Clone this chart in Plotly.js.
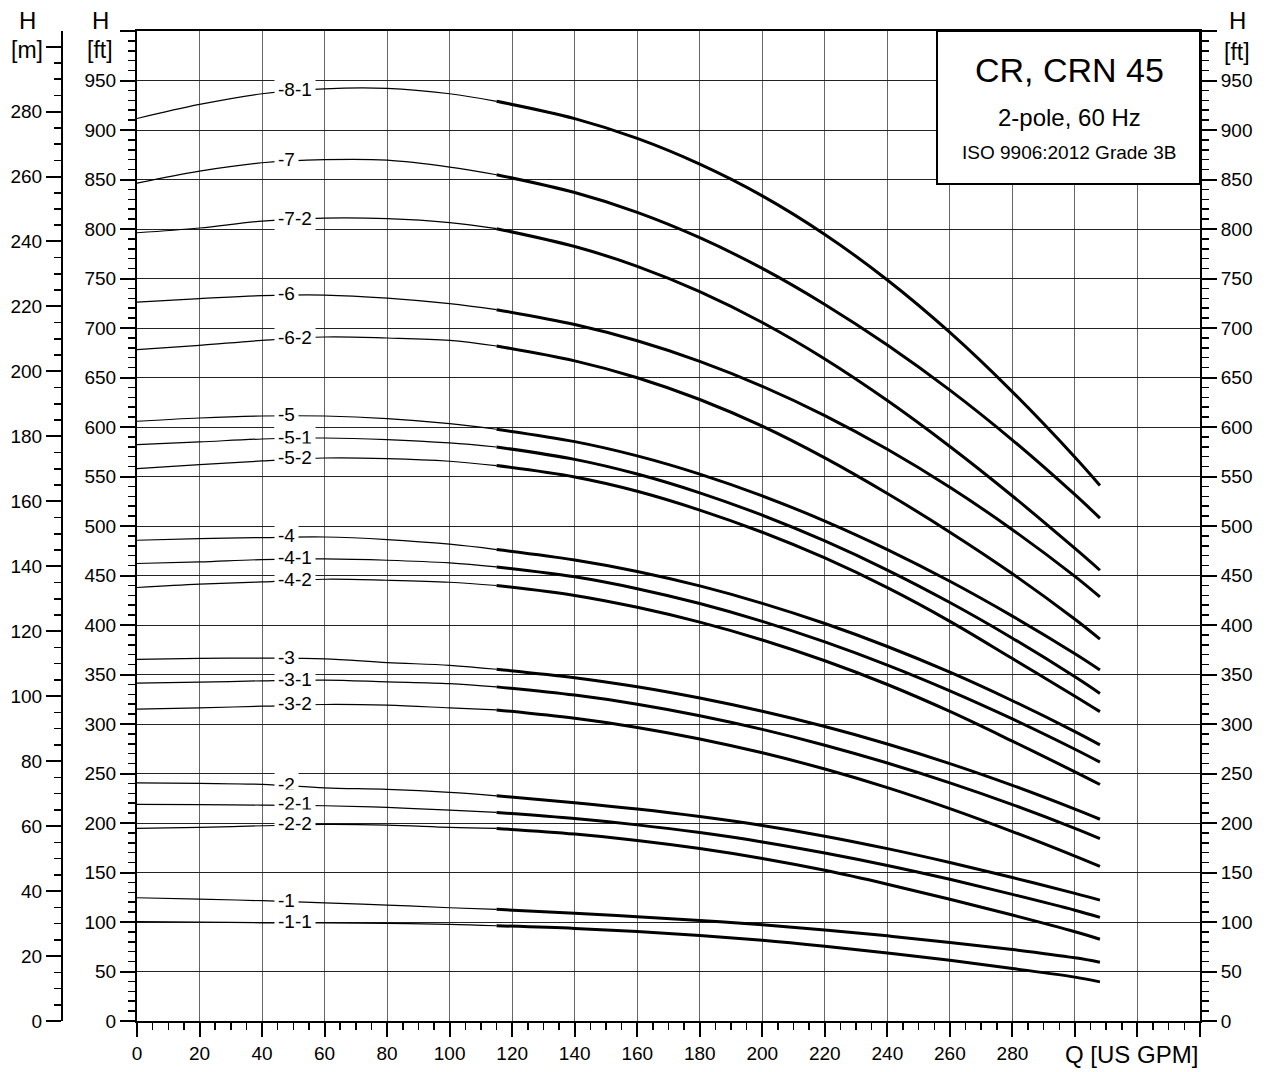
<!DOCTYPE html>
<html>
<head>
<meta charset="utf-8">
<script src="https://cdn.plot.ly/plotly-3.0.1.min.js"></script>
<style>html,body{margin:0;padding:0;background:#fff;}#chart{width:1267px;height:1072px;}</style>
</head>
<body>
<div id="chart"></div>
<script>
// ---- Data (H in ft, Q in US GPM) ----
const Q_THIN  = [0, 20, 40, 60, 80, 100, 115];
const Q_THICK = [115, 140, 160, 180, 200, 220, 240, 260, 280, 300, 308];
const CURVE_NAMES = ['-8-1','-7','-7-2','-6','-6-2','-5','-5-1','-5-2','-4','-4-1','-4-2','-3','-3-1','-3-2','-2','-2-1','-2-2','-1','-1-1'];

const THIN_8_1  = [911.6, 925.8, 936.6, 941.6, 942.0, 936.6, 929.0];
const THICK_8_1 = [929.0, 911.5, 891.5, 865.5, 833.5, 794.5, 748.5, 695.5, 635.5, 569.5, 541.0];
const THIN_7    = [846.4, 858.5, 866.9, 870.0, 869.5, 862.5, 854.8];
const THICK_7   = [854.8, 836.8, 816.8, 791.2, 760.2, 723.8, 682.8, 637.2, 586.8, 531.6, 508.0];
const THIN_7_2  = [796.2, 801.0, 808.0, 811.0, 810.4, 806.4, 800.3];
const THICK_7_2 = [800.3, 782.3, 762.3, 736.7, 705.5, 668.7, 626.7, 580.3, 530.3, 477.3, 455.3];
const THIN_6    = [726.2, 729.6, 732.7, 733.3, 730.2, 724.6, 718.5];
const THICK_6   = [718.5, 703.5, 687.1, 666.3, 641.1, 611.5, 577.5, 539.1, 496.3, 449.1, 428.3];
const THIN_6_2  = [678.1, 682.5, 687.5, 690.9, 689.9, 687.5, 681.8];
const THICK_6_2 = [681.8, 666.8, 649.8, 627.8, 600.8, 568.8, 532.8, 493.8, 451.8, 405.8, 385.8];
const THIN_5    = [605.8, 609.1, 611.1, 611.1, 608.5, 603.4, 597.7];
const THICK_5   = [597.7, 585.2, 570.8, 552.4, 530.4, 505.0, 476.2, 444.2, 409.0, 371.0, 354.6];
const THIN_5_1  = [582.2, 584.9, 587.9, 588.9, 587.3, 583.9, 579.8];
const THICK_5_1 = [579.8, 567.3, 552.5, 533.5, 510.9, 484.9, 455.5, 422.7, 386.7, 347.7, 330.9];
const THIN_5_2  = [558.0, 562.0, 565.7, 568.7, 568.1, 565.4, 561.0];
const THICK_5_2 = [561.0, 549.5, 535.1, 516.1, 493.7, 467.7, 437.7, 403.7, 366.1, 328.1, 312.5];
const THIN_4    = [485.6, 487.3, 488.3, 488.9, 486.3, 481.6, 476.2];
const THICK_4   = [476.2, 465.7, 454.1, 439.5, 421.9, 401.5, 378.3, 352.3, 323.5, 292.3, 278.9];
const THIN_4_1  = [462.1, 463.7, 466.1, 466.7, 465.4, 462.7, 458.7];
const THICK_4_1 = [458.7, 448.7, 436.7, 421.7, 403.7, 382.9, 359.5, 333.5, 305.1, 274.5, 261.5];
const THIN_4_2  = [437.9, 441.2, 443.5, 446.2, 445.2, 443.2, 439.9];
const THICK_4_2 = [439.9, 429.9, 417.9, 402.9, 384.9, 363.9, 339.9, 312.7, 282.7, 251.7, 238.9];
const THIN_3    = [365.2, 366.2, 366.5, 365.8, 362.0, 359.3, 355.3];
const THICK_3   = [355.3, 346.8, 337.6, 326.2, 312.8, 297.4, 279.8, 260.0, 238.0, 214.0, 203.8];
const THIN_3_1  = [341.2, 342.2, 343.6, 344.3, 342.6, 340.8, 337.5];
const THICK_3_1 = [337.5, 329.2, 320.0, 308.4, 294.6, 278.6, 260.6, 240.6, 218.6, 194.6, 184.2];
const THIN_3_2  = [315.0, 316.3, 318.0, 319.7, 319.0, 316.3, 314.2];
const THICK_3_2 = [314.2, 305.7, 296.5, 284.9, 270.9, 254.5, 235.7, 214.5, 191.3, 166.5, 156.1];
const THIN_2    = [240.6, 240.0, 239.0, 235.5, 233.9, 230.9, 227.5];
const THICK_2   = [227.5, 220.5, 214.1, 206.5, 197.5, 186.7, 174.1, 160.1, 144.9, 128.9, 122.1];
const THIN_2_1  = [218.8, 218.5, 218.1, 217.4, 215.7, 213.0, 210.7];
const THICK_2_1 = [210.7, 204.5, 198.1, 190.3, 180.9, 169.7, 157.1, 143.1, 127.9, 111.9, 104.7];
const THIN_2_2  = [194.5, 195.6, 197.2, 198.6, 197.9, 195.6, 194.5];
const THICK_2_2 = [194.5, 188.8, 182.4, 174.2, 164.2, 152.2, 138.2, 123.0, 107.0, 90.2, 82.6];
const THIN_1    = [124.5, 123.2, 121.5, 119.4, 117.1, 114.4, 112.8];
const THICK_1   = [112.8, 108.8, 105.4, 101.6, 97.2, 92.0, 86.0, 79.4, 72.2, 63.8, 59.4];
const THIN_1_1  = [100.3, 100.0, 99.2, 99.2, 98.6, 97.6, 96.2];
const THICK_1_1 = [96.2, 93.5, 90.3, 86.3, 81.5, 75.5, 68.7, 61.3, 53.1, 44.3, 39.5];

const X_TICKS  = [0,20,40,60,80,100,120,140,160,180,200,220,240,260,280,300,320,340];
const X_LABELS = ['0','20','40','60','80','100','120','140','160','180','200','220','240','260','280','','',''];
const FT_TICKS = [0,50,100,150,200,250,300,350,400,450,500,550,600,650,700,750,800,850,900,950,1000];
const FT_LABELS = ['0','50','100','150','200','250','300','350','400','450','500','550','600','650','700','750','800','850','900','950',''];
const M_TICKS  = [0,20,40,60,80,100,120,140,160,180,200,220,240,260,280,300];
const M_LABELS = ['0','20','40','60','80','100','120','140','160','180','200','220','240','260','280',''];

const TITLE_LINES = ['CR, CRN 45', '2-pole, 60 Hz', 'ISO 9906:2012 Grade 3B'];

const THIN_SETS  = [THIN_8_1, THIN_7, THIN_7_2, THIN_6, THIN_6_2, THIN_5, THIN_5_1, THIN_5_2, THIN_4, THIN_4_1, THIN_4_2, THIN_3, THIN_3_1, THIN_3_2, THIN_2, THIN_2_1, THIN_2_2, THIN_1, THIN_1_1];
const THICK_SETS = [THICK_8_1, THICK_7, THICK_7_2, THICK_6, THICK_6_2, THICK_5, THICK_5_1, THICK_5_2, THICK_4, THICK_4_1, THICK_4_2, THICK_3, THICK_3_1, THICK_3_2, THICK_2, THICK_2_1, THICK_2_2, THICK_1, THICK_1_1];

// ---- Geometry ----
const W = 1267, H = 1072;
const M = {l: 40, r: 67, t: 31, b: 51};
const PW = W - M.l - M.r;
const PH = H - M.t - M.b;
const px2x = p => (p - M.l) / PW;
const py2y = p => (H - M.b - p) / PH;

const FONT = 'Liberation Sans, Arial, Helvetica, sans-serif';
const traces = [];
CURVE_NAMES.forEach((name, i) => {
  traces.push({x: Q_THIN, y: THIN_SETS[i], mode: 'lines', line: {color: '#000', width: 1.2, shape: 'spline', smoothing: 1}, hoverinfo: 'skip', showlegend: false});
  traces.push({x: Q_THICK, y: THICK_SETS[i], mode: 'lines', line: {color: '#000', width: 3, shape: 'spline', smoothing: 1}, hoverinfo: 'skip', showlegend: false});
});
traces.push({x: [], y: [], yaxis: 'y2', mode: 'lines', showlegend: false, hoverinfo: 'skip'});
traces.push({x: [], y: [], yaxis: 'y3', mode: 'lines', showlegend: false, hoverinfo: 'skip'});

const tickFont = {family: FONT, size: 19, color: '#000'};
const annotations = [];
CURVE_NAMES.forEach((name, i) => {
  const th = THIN_SETS[i];
  annotations.push({
    x: 43.8, y: (th[2] + th[3]) / 2 + 1.5, xref: 'x', yref: 'y',
    text: name, showarrow: false, xanchor: 'left', yanchor: 'middle',
    bgcolor: '#fff', borderpad: 3, font: {family: FONT, size: 19, color: '#000'}
  });
});
const heads = [
  ['H', 27, 21, 24], ['[m]', 27, 50, 23],
  ['H', 100, 21, 24], ['[ft]', 100, 50, 23],
  ['H', 1237, 20, 24], ['[ft]', 1237, 52, 23],
  ['Q [US GPM]', 1131, 1054, 24]
];
heads.forEach(h => annotations.push({
  x: px2x(h[1]), y: py2y(h[2]), xref: 'paper', yref: 'paper', text: h[0],
  showarrow: false, xanchor: 'center', yanchor: 'middle', font: {family: FONT, size: h[3], color: '#000'}
}));
const tpos = [[70, 34], [117, 24], [152, 19]];
TITLE_LINES.forEach((t, i) => annotations.push({
  x: px2x(1069), y: py2y(tpos[i][0]), xref: 'paper', yref: 'paper', text: t,
  showarrow: false, xanchor: 'center', yanchor: 'middle', font: {family: FONT, size: tpos[i][1], color: '#000'}
}));

const layout = {
  width: W, height: H, margin: M,
  paper_bgcolor: '#fff', plot_bgcolor: '#fff', showlegend: false,
  font: {family: FONT, size: 19, color: '#000'},
  xaxis: {
    domain: [px2x(137), 1], range: [0, 340], tickmode: 'array', tickvals: X_TICKS, ticktext: X_LABELS,
    ticks: 'outside', ticklen: 14, tickwidth: 2, tickcolor: '#000', tickfont: tickFont,
    showline: true, linewidth: 2, linecolor: '#000', mirror: true,
    showgrid: true, gridcolor: '#666', gridwidth: 1, zeroline: false,
    minor: {tickmode: 'linear', tick0: 0, dtick: 5, ticks: 'outside', ticklen: 7, tickwidth: 1.5, tickcolor: '#000', showgrid: false}
  },
  yaxis: {
    range: [0, 1000], tickmode: 'array', tickvals: FT_TICKS, ticktext: FT_LABELS,
    ticks: 'outside', ticklen: 15, tickwidth: 2, tickcolor: '#000', tickfont: tickFont,
    showline: true, linewidth: 2, linecolor: '#000',
    showgrid: true, gridcolor: '#222', gridwidth: 1, zeroline: false,
    minor: {tickmode: 'linear', tick0: 0, dtick: 10, ticks: 'outside', ticklen: 7, tickwidth: 1.5, tickcolor: '#000', showgrid: false}
  },
  yaxis2: {
    overlaying: 'y', side: 'right', anchor: 'x', range: [0, 1000], tickmode: 'array', tickvals: FT_TICKS, ticktext: FT_LABELS,
    ticks: 'outside', ticklen: 15, tickwidth: 2, tickcolor: '#000', tickfont: tickFont,
    showline: true, linewidth: 2, linecolor: '#000', showgrid: false, zeroline: false,
    minor: {tickmode: 'linear', tick0: 0, dtick: 10, ticks: 'outside', ticklen: 7, tickwidth: 1.5, tickcolor: '#000', showgrid: false}
  },
  yaxis3: {
    overlaying: 'y', side: 'left', anchor: 'free', position: px2x(62), range: [0, 304.8],
    tickmode: 'array', tickvals: M_TICKS, ticktext: M_LABELS,
    ticks: 'outside', ticklen: 15, tickwidth: 2, tickcolor: '#000', tickfont: tickFont,
    showline: true, linewidth: 2, linecolor: '#000', showgrid: false, zeroline: false,
    minor: {tickmode: 'linear', tick0: 0, dtick: 5, ticks: 'outside', ticklen: 7, tickwidth: 1.5, tickcolor: '#000', showgrid: false}
  },
  shapes: [{
    type: 'rect', xref: 'paper', yref: 'paper', x0: px2x(937), x1: 1, y0: py2y(184), y1: 1,
    fillcolor: '#fff', line: {color: '#000', width: 2}, layer: 'above'
  }],
  annotations: annotations
};

Plotly.newPlot('chart', traces, layout, {displayModeBar: false, staticPlot: true});
</script>
</body>
</html>
